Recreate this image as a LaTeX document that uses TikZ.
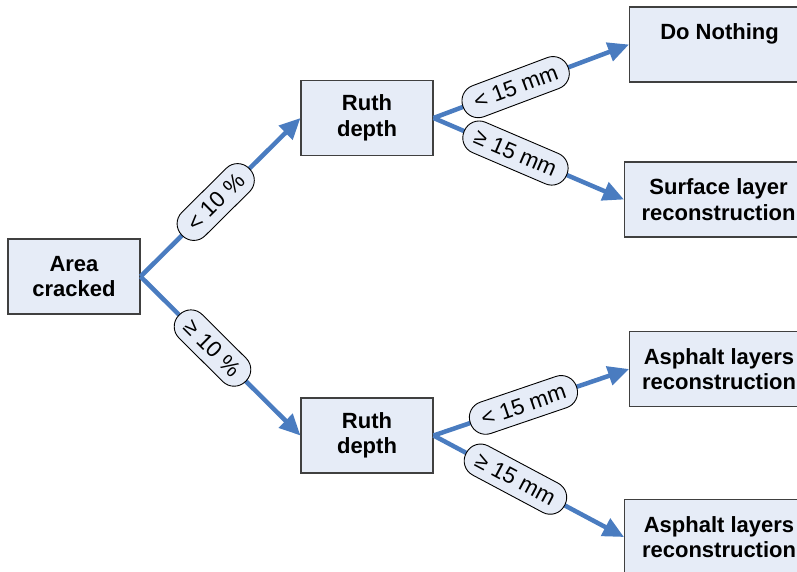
\documentclass[tikz,border=0pt]{standalone}
\usepackage{fontspec}
\setmainfont{Liberation Sans}
\usetikzlibrary{arrows.meta}
\definecolor{boxfill}{RGB}{230,236,247}
\definecolor{boxline}{RGB}{64,64,64}
\definecolor{linkblue}{RGB}{74,124,192}
\begin{document}
\begin{tikzpicture}[x=1pt,y=-1pt,
  box/.style={draw=boxline, line width=1.1pt, fill=boxfill, align=center,
    font=\fontsize{22}{25.5}\selectfont\bfseries, inner sep=0pt,
    minimum width=132pt, minimum height=75pt},
  endbox/.style={box, anchor=west},
  conn/.style={draw=linkblue, line width=4.5pt,
    -{Triangle[length=21pt,width=19pt]}},
  lbl/.style={draw=black, line width=0.9pt, fill=boxfill, rounded corners=16pt,
    font=\fontsize{22.5}{25}\selectfont, inner xsep=12pt, inner ysep=0pt,
    minimum height=33pt, sloped}]
\useasboundingbox (0,0) rectangle (797,571);

% decision boxes
\node[box] (area) at (74,276.5) {Area\\cracked};
\node[box] (ruthA) at (367,118) {Ruth\\depth};
\node[box] (ruthB) at (367,435.5) {Ruth\\depth};

% outcome boxes (run past the right edge)
\node[endbox, minimum width=180pt] (none) at (629,44.5) {Do Nothing\\\mbox{}};
\node[endbox, minimum width=188pt] (surf) at (624,199.5) {Surface layer\\reconstruction};
\node[endbox, minimum width=179pt] (asphA) at (629,369) {Asphalt layers\\reconstruction};
\node[endbox, minimum width=189pt] (asphB) at (624,537) {Asphalt layers\\reconstruction};

% connectors with condition labels
\draw[conn] (area.east) -- node[lbl, pos=.47] {< 10 \%} (ruthA.west);
\draw[conn] (area.east) -- node[lbl, pos=.45] {≥ 10 \%} (ruthB.west);
\draw[conn] (ruthA.east) -- node[lbl, pos=.42] {< 15 mm} (none.west);
\draw[conn] (ruthA.east) -- node[lbl, pos=.43] {≥ 15 mm} (surf.west);
\draw[conn] (ruthB.east) -- node[lbl, pos=.46] {< 15 mm} (asphA.west);
\draw[conn] (ruthB.east) -- node[lbl, pos=.43] {≥ 15 mm} (asphB.west);
\end{tikzpicture}
\end{document}
